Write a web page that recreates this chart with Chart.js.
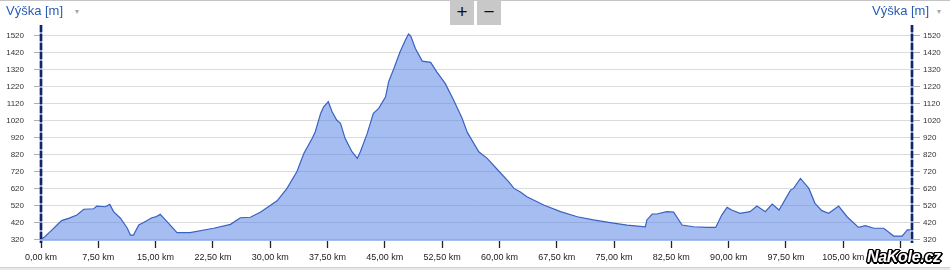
<!DOCTYPE html>
<html>
<head>
<meta charset="utf-8">
<script src="https://cdn.jsdelivr.net/npm/chart.js@4/dist/chart.umd.min.js"></script>
<style>
  html, body { margin: 0; padding: 0; background: #fff; }
  #wrap { position: relative; width: 950px; height: 270px; overflow: hidden; font-family: Arial, "Liberation Sans", sans-serif; }
  #c { position: absolute; left: 0; top: 0; }
  .hdr { position: absolute; top: 3px; font-size: 13px; line-height: 15px; color: #2a5cb6; }
  .arr { position: absolute; top: 8px; font-size: 8px; line-height: 8px; color: #a8a8a8; }
  .btn { position: absolute; top: 0; width: 24px; height: 25px; background: #c8c8c8; color: #111; text-align: center; font-size: 19px; line-height: 24px; }
  #topline { position: absolute; left: 0; top: 0; width: 950px; height: 1px; background: #c4c4c4; }
  #botbar { position: absolute; left: 0; top: 267px; width: 950px; height: 3px; background: #e8e8e8; border-top: 1px solid #d0d0d0; }
  #logo { position: absolute; left: 867px; top: 248px; font-size: 16px; line-height: 18px; font-weight: bold; font-style: italic; color: #fff; letter-spacing: -0.3px;
    text-shadow: -1.5px 0 #000, 1.5px 0 #000, 0 -1.5px #000, 0 1.5px #000, -1px -1px #000, 1px 1px #000, -1px 1px #000, 1px -1px #000, 2px 0 #000, 0 2px #000; }
</style>
</head>
<body>
<div id="wrap">
  <canvas id="c" width="950" height="270"></canvas>
  <div id="topline"></div>
  <div class="hdr" style="left:6px">Výška [m]</div>
  <div class="arr" style="left:75px">▾</div>
  <div class="hdr" style="left:872px">Výška [m]</div>
  <div class="arr" style="left:937px">▾</div>
  <div class="btn" style="left:450px">+</div>
  <div class="btn" style="left:477px">−</div>
  <div id="botbar"></div>
  <div id="logo">NaKole.cz</div>
</div>
<script>
// distance along route [km]
const distanceKm = [0.0,0.5,1.2,2.0,2.7,3.7,4.7,5.6,6.9,7.3,8.4,9.0,9.5,10.4,11.3,11.7,12.1,12.8,13.6,14.5,15.0,15.6,16.5,17.8,18.7,19.5,22.6,24.8,26.1,27.4,28.7,30.9,32.2,33.5,34.4,35.5,35.9,36.6,37.0,37.6,38.1,38.7,39.2,39.8,40.7,41.4,41.8,42.7,43.5,44.2,45.1,45.5,46.2,47.0,47.7,48.1,48.4,49.0,49.9,51.0,51.8,52.9,54.0,55.1,55.8,57.3,58.4,59.7,61.2,61.9,62.7,63.6,65.8,68.0,70.2,72.3,74.5,76.7,79.1,79.3,80.0,80.6,81.9,82.8,83.9,85.4,87.2,88.3,89.1,89.8,90.4,91.5,92.8,93.7,94.8,95.7,96.6,98.1,98.5,99.4,100.5,101.3,102.2,103.1,104.4,105.5,107.0,107.9,109.0,110.3,111.6,112.7,113.4,113.8];
// elevation [m]
const elevationM = [320,335,365,400,430,445,463,497,500,516,512,526,483,444,385,345,345,404,424,447,452,467,424,359,359,359,385,408,447,450,479,547,620,720,826,915,954,1062,1101,1131,1072,1023,1003,915,836,797,836,944,1062,1092,1160,1249,1328,1425,1494,1530,1518,1445,1370,1363,1307,1239,1141,1035,950,836,797,733,660,620,600,571,522,483,453,434,418,404,394,434,469,469,483,480,404,394,390,390,463,508,493,473,483,516,483,528,493,610,620,679,620,532,489,473,516,453,390,400,385,385,339,339,375,375];
const yTickValues = [320,420,520,620,720,820,920,1020,1120,1220,1320,1420,1520];
const xTickValues = [0,7.5,15,22.5,30,37.5,45,52.5,60,67.5,75,82.5,90,97.5,105,112.5];
const xLabelHiddenFrom = 112.5; // covered by the logo in the original

const points = distanceKm.map((d, i) => ({ x: d, y: elevationM[i] }));
const fmtKm = v => v.toFixed(2).replace('.', ',') + ' km';

// dashed dark axis lines on both value axes
const dashedAxes = {
  id: 'dashedAxes',
  afterDraw(chart) {
    const ctx = chart.ctx, a = chart.chartArea;
    ctx.save();
    ctx.lineWidth = 2.5;
    [a.left, a.right].forEach(x => {
      ctx.strokeStyle = '#8a9ac4';
      ctx.setLineDash([]);
      ctx.beginPath(); ctx.moveTo(x, a.top); ctx.lineTo(x, a.bottom + 2); ctx.stroke();
      ctx.strokeStyle = '#0f2768';
      ctx.setLineDash([7, 2]);
      ctx.beginPath(); ctx.moveTo(x, a.top); ctx.lineTo(x, a.bottom + 2); ctx.stroke();
    });
    ctx.restore();
  }
};

new Chart(document.getElementById('c'), {
  type: 'line',
  data: {
    datasets: [{
      data: points,
      borderColor: '#3a62c2',
      borderWidth: 1.2,
      backgroundColor: 'rgba(77,124,228,0.5)',
      fill: 'start',
      pointRadius: 0,
      tension: 0,
      yAxisID: 'y'
    }]
  },
  plugins: [dashedAxes],
  options: {
    responsive: false,
    animation: false,
    events: [],
    layout: { padding: { top: 25, left: 0, right: 0, bottom: 0 } },
    plugins: { legend: { display: false }, tooltip: { enabled: false } },
    scales: {
      x: {
        type: 'linear',
        min: 0, max: 114.0,
        afterBuildTicks: s => { s.ticks = xTickValues.map(v => ({ value: v })); },
        afterFit: s => { s.height = 29; },
        border: { display: false },
        grid: { drawOnChartArea: false, drawTicks: true, tickLength: 7, tickColor: '#222', tickWidth: 1.3 },
        ticks: {
          padding: 4, color: '#222', font: { family: 'Arial', size: 9 }, maxRotation: 0, autoSkip: false,
          callback: v => (v >= xLabelHiddenFrom ? '' : fmtKm(v))
        }
      },
      y: {
        position: 'left',
        min: 310, max: 1583,
        afterBuildTicks: s => { s.ticks = yTickValues.map(v => ({ value: v })); },
        afterFit: s => { s.width = 41; },
        border: { display: false },
        grid: { color: '#dcdcdc', lineWidth: 1, drawTicks: true, tickLength: 7, tickColor: '#b0b0b0' },
        ticks: { padding: 10, color: '#333', font: { family: 'Arial', size: 8 }, autoSkip: false, callback: v => String(v) }
      },
      y2: {
        position: 'right',
        min: 310, max: 1583,
        afterBuildTicks: s => { s.ticks = yTickValues.map(v => ({ value: v })); },
        afterFit: s => { s.width = 38; },
        border: { display: false },
        grid: { drawOnChartArea: false, drawTicks: true, tickLength: 8, tickColor: '#b0b0b0' },
        ticks: { padding: 3, color: '#333', font: { family: 'Arial', size: 8 }, autoSkip: false, callback: v => String(v) }
      }
    }
  }
});
</script>
</body>
</html>
